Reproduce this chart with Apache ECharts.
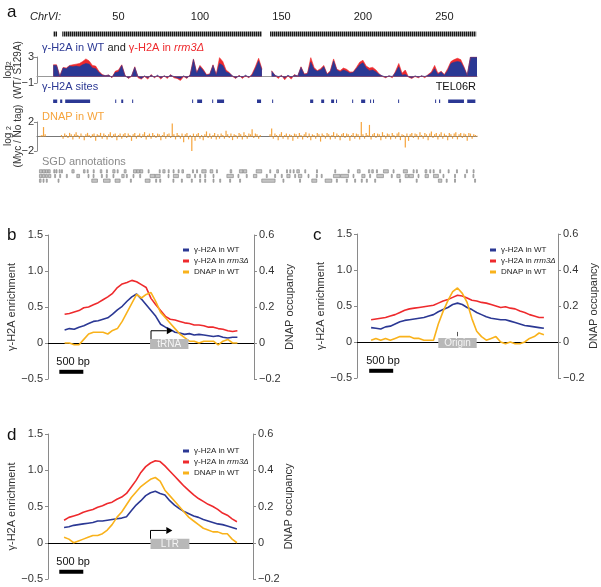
<!DOCTYPE html>
<html><head><meta charset="utf-8">
<script src="https://cdn.jsdelivr.net/npm/echarts@6/dist/echarts.min.js"></script>
<style>html,body{margin:0;padding:0;background:#fff}
#wrap{position:relative;width:601px;height:587px}
#ca,#cb{position:absolute;left:0;top:0;width:601px;height:587px}</style>
</head><body><div id="wrap"><div id="ca"></div><div id="cb"></div></div>
<script>
const FONT = '"Liberation Sans", Arial, Helvetica, sans-serif';
// ---------- Panel a data ----------
const rulerTicks = [50, 100, 150, 200, 250];
const probeRanges = [[10, 12.3], [15.5, 138], [143, 269.5]];
const gammaStart = 10, gammaStep = 2; // kb
const gammaWT = [
  1.7, 1.7, 0.05, 1.3, 1.2, 1.6, 1.5, 1.6, 1.5, 1.8,
  2.0, 1.9, 1.3, 1.2, 0.6, 0.2, 0.15, 0.2, -0.1, 0.6,
  0.7, 1.7, 0.1, -0.2, 0.1, 1.4, 0.0, -0.3, 0.1, -0.2,
  0.2, -0.1, 0.2, -0.2, 0.1, -0.1, 0.2, 0.0, -0.2, -0.3,
  0.1, -0.2, 0.2, 2.6, 0.5, 1.5, 0.9, 0.2, 0.3, 1.7,
  0.2, 2.0, 1.7, 0.7, 0.5, 0.1, -0.2, 0.1, -0.1, 0.2,
  -0.1, 0.2, 1.2, 2.4, 1.0, null, null, 0.8, 0.2, 0.0,
  0.1, -0.2, 0.2, -0.1, 0.2, 0.1, 1.4, 0.3, 0.4, 2.2,
  1.1, 0.8, 1.0, 1.5, 0.3, 0.7, 2.4, 1.0, 0.7, 1.0,
  0.8, 0.5, 0.6, 1.2, 1.8, 2.1, 1.3, 0.9, 1.0, 0.7,
  0.3, 0.1, -0.1, 0.1, 0.0, 0.6, 1.5, 0.2, 0.3, 0.0,
  -0.2, 0.1, -0.1, 0.1, 0.0, 0.2, 0.5, 1.2, 0.3, 0.7,
  0.2, 0.9, 2.0, 2.2, 2.3, 2.2, 1.3, 0.2, 3.0, 3.0,
  3.0
];
const gammaRrm3 = [
  1.8, 1.8, 0.05, 1.4, 1.3, 1.7, 1.8, 1.9, 2.0, 2.3,
  2.7, 2.4, 1.7, 1.6, 0.8, 0.3, 0.1, 0.25, -0.2, 0.8,
  1.0, 1.8, 0.2, -0.3, 0.0, 1.5, -0.2, -0.4, 0.0, -0.4,
  0.3, -0.2, 0.1, -0.4, 0.1, -0.3, 0.3, -0.2, -0.3, -0.6,
  0.0, -0.3, 0.3, 2.7, 0.6, 1.7, 1.1, 0.3, 0.4, 1.8,
  0.3, 2.9, 2.3, 1.0, 0.6, 0.0, -0.3, 0.2, -0.3, 0.1,
  -0.2, 0.4, 1.5, 2.8, 1.2, null, null, 0.9, 0.2, -0.3,
  0.2, -0.5, 0.1, -0.4, 0.3, 0.0, 1.5, 0.4, 0.5, 2.9,
  1.4, 0.9, 1.2, 1.7, 0.4, 0.9, 2.7, 1.1, 0.9, 1.3,
  1.1, 0.7, 0.7, 1.4, 2.2, 2.5, 1.6, 1.3, 1.4, 1.0,
  0.4, 0.0, -0.2, 0.1, -0.2, 0.8, 2.0, 0.5, 1.0, -0.1,
  -0.3, 0.0, -0.2, 0.1, -0.2, 0.3, 0.7, 1.7, 0.5, 0.8,
  0.3, 1.2, 2.3, 2.6, 2.8, 2.6, 1.5, 0.2, 3.0, 3.0,
  3.0
];
const siteRanges = [[9.9,12.4],[14.2,15.5],[17.3,32.6],[48,48.6],[51.7,52.9],[58.4,59],[95.2,95.8],[98.3,101.3],[107.5,108.1],[110.5,114.8],[135,137.5],[144.3,144.9],[167.6,169.5],[174.4,176.2],[180.5,182.3],[183.5,184],[193.4,193.9],[198.9,201.4],[204.4,205],[206.2,206.8],[221.6,222.2],[244.3,244.9],[246.7,247.4],[252.3,262],[264,269]];
const dnapStart = 2; // kb, 1 kb steps
const dnapWT = [
  0.1, 0.2, 1.3, 0.3, null, null, null, null,
  null, null, null, null, null, 0.2, -0.3, 0.4, 0.2, -0.2,
  0.5, 0.3, -0.4, 0.3, 0.6, 0.2, -0.3, 0.4, 0.1, -0.5,
  0.3, 0.5, 0.2, -0.2, 0.3, 0.4, -0.6, 0.3, 0.2, 0.5,
  -0.3, 0.4, 0.2, -0.4, 0.3, 0.6, -0.2, 0.3, 0.4, -0.5,
  0.2, 0.4, -0.3, 0.3, 0.5, -0.2, 0.4, 0.2, -0.6, 0.3,
  0.5, -0.3, 0.2, 0.4, -0.2, 0.3, 0.6, -0.4, 0.2, 0.4,
  -0.3, 0.5, 0.2, -0.2, 0.4, 0.3, -0.5, 0.2, 0.6, -0.3,
  0.3, 0.4, -0.2, 1.8, 0.3, -0.4, 0.5, 0.2, -0.3, 0.4,
  -0.8, 0.3, 0.5, -0.4, 0.2, -2.0, 0.4, -0.6, 0.3, 0.5,
  -0.3, 0.2, -0.5, 0.3, 0.7, -0.2, 0.4, -0.3, 0.2, 0.5,
  -0.4, 0.3, -0.3, 0.4, 0.2, -0.3, 0.8, 0.3, -0.2, 0.4,
  -0.5, 0.3, 0.2, -0.3, 0.5, 0.3, -0.4, 0.6, 0.2, -0.3,
  0.4, 0.3, 1.0, -0.2, 0.4, 0.3, -0.3, 0.2, null, null,
  null, null, null, 0.3, 1.1, -0.3, 0.4, 0.2, -0.5, 0.3,
  0.6, -0.3, 0.2, 0.4, -0.4, 0.3, 0.2, -0.6, 0.4, 0.3,
  -0.3, 0.5, 0.2, -0.4, 0.3, 0.6, -0.2, 0.4, -0.5, 0.3,
  0.2, -0.3, 0.5, 0.3, -0.7, 0.4, 0.2, -0.3, 0.5, 0.3,
  -0.4, 0.2, 0.6, -0.3, 0.4, 0.2, -0.5, 0.3, 0.5, -0.2,
  0.4, 0.3, -0.6, 0.2, 0.5, -0.3, 0.4, 0.3, -0.4, 2.0,
  0.3, -0.3, 0.5, 0.2, 1.6, -0.4, 0.3, 0.5, -0.2, 0.4,
  0.3, -0.5, 0.6, 0.2, -0.3, 0.4, 0.3, -0.4, 0.5, 0.2,
  -0.3, 0.4, 0.6, -0.5, 0.3, 0.2, -1.5, 0.4, -0.6, 0.3,
  0.5, -0.2, 0.4, 0.3, -0.4, 0.6, 0.2, -0.3, 0.5, 0.3,
  -0.5, 0.4, 0.7, -0.2, 0.3, 0.5, -0.4, 0.3, 0.6, -0.3,
  0.4, 0.2, -0.5, 0.5, 0.3, -0.3, 0.4, 0.6, -0.4, 0.3,
  0.5, -0.2, 0.4, 0.3, -0.6, 0.5, 0.4, -0.3, 0.3, 0.2,
  0.1
];
const sgdRow1 = [[1.5,3.2],[3.4,5],[5.2,6.6],[6.8,8.1],[10.3,11],[11.6,12.3],[13.6,14.2],[15,15.6],[21.4,22.8],[28.5,29.5],[30.8,31.4],[34.5,35.1],[38.8,39.8],[42.6,43.2],[46.5,47.9],[49.2,49.8],[53.5,54.7],[59.2,61],[61.2,63],[63.2,64.9],[68.2,68.8],[75,75.6],[77.2,78.6],[80.5,81.1],[83.5,84.1],[86.6,87.2],[88.9,89.9],[95.4,96],[97.9,98.5],[101.1,103.8],[106.2,107.9],[110.1,110.7],[118.5,119.5],[124.2,126.4],[126.6,128.7],[134.5,137.9],[142.8,143.4],[147.1,148.2],[153.1,153.7],[155.1,155.7],[157.2,157.8],[159.4,161],[164.3,164.9],[171.5,172.1],[182.7,183.3],[190.9,191.5],[196.6,198.3],[203.4,204.2],[205.4,206.4],[208.3,208.9],[212.6,215.6],[218.5,219.1],[224.8,227.3],[230.8,231.4],[232.8,233.4],[238.1,239.2],[241,241.6],[243.1,243.7],[247.1,247.7],[252.3,252.9],[257.4,258],[263.5,264.1],[267.6,268.2]];
const sgdRow2 = [[1.5,3],[3.3,4.8],[5.2,6.4],[7,8.5],[10.8,11.4],[13.9,14.5],[18,18.6],[24.4,26.1],[31.3,31.9],[34.4,35],[39.5,40.1],[42.5,43.1],[46.6,47.2],[52,53.5],[54.8,55.4],[58.9,59.5],[63,63.6],[69.4,72.4],[72.6,75.6],[80.4,81],[83.7,86.8],[91.9,94],[96.7,97.3],[99.8,100.4],[102.9,103.5],[108,108.6],[116.5,120.5],[123.3,123.9],[128.4,129],[132.8,134.9],[140.7,141.3],[145.8,146.4],[149.9,150.5],[153.3,155.3],[158.1,158.7],[160.4,162.5],[166.3,166.9],[171.4,172],[174.4,175],[181.9,186],[186.3,191.1],[193.9,194.5],[199.3,201.3],[204.1,204.7],[208.5,212.6],[217.4,218],[220.8,222.8],[225.9,228],[228.4,231],[233.8,234.4],[238.1,240.2],[243.3,246.3],[249.1,249.7],[256.2,256.8],[262.4,263],[267.5,268.1]];
const sgdRow3 = [[1.5,2.5],[3.7,4.3],[5.7,6.3],[12.9,13.5],[33.6,37.1],[40.8,44.9],[47.9,51],[57.3,57.9],[66.4,69.4],[72.8,73.4],[75.3,75.9],[83.4,84],[88.6,89.2],[94.7,95.3],[99.8,100.4],[102.9,103.5],[108,108.6],[112.1,112.7],[118.2,118.8],[124.3,124.9],[137.9,146.1],[150.9,151.5],[161.1,161.7],[168.6,171.7],[176.8,180.9],[183.7,184.3],[189.8,190.4],[194.9,195.5],[199,199.6],[202.1,202.7],[207.2,207.8],[222.5,223.1],[232.7,233.3],[246.3,248.4],[251.1,251.7],[256.2,256.8],[268.5,269.1]];

// ---------- Panels b-d data ----------
const profileBp = [-1800,-1700,-1600,-1500,-1400,-1300,-1200,-1100,-1000,-900,-800,-700,-600,-500,-400,-300,-200,-100,0,100,200,300,400,500,600,700,800,900,1000,1100,1200,1300,1400,1500,1600,1700,1800];
const bWT   = [0.18,0.20,0.19,0.22,0.24,0.27,0.30,0.31,0.33,0.35,0.40,0.46,0.51,0.58,0.64,0.68,0.61,0.53,0.45,0.37,0.26,0.22,0.19,0.15,0.14,0.12,0.13,0.11,0.12,0.11,0.10,0.09,0.10,0.08,0.07,0.08,0.08];
const bRrm3 = [0.40,0.41,0.43,0.45,0.49,0.50,0.53,0.56,0.60,0.64,0.69,0.77,0.82,0.84,0.87,0.85,0.81,0.77,0.62,0.53,0.45,0.37,0.33,0.32,0.30,0.28,0.27,0.25,0.25,0.24,0.22,0.22,0.20,0.19,0.17,0.16,0.17];
const bDNAP = [0.00,0.00,-0.01,-0.01,0.02,0.05,0.06,0.06,0.06,0.05,0.07,0.08,0.12,0.17,0.22,0.27,0.25,0.27,0.28,0.23,0.17,0.14,0.11,0.08,0.05,0.03,0.01,0.01,0.00,0.01,0.01,0.01,-0.01,0.01,0.02,0.00,0.00];
const cWT   = [0.20,0.19,0.18,0.21,0.22,0.25,0.28,0.30,0.31,0.32,0.33,0.34,0.36,0.38,0.42,0.45,0.48,0.52,0.54,0.52,0.48,0.45,0.41,0.38,0.35,0.33,0.32,0.31,0.31,0.29,0.27,0.25,0.23,0.22,0.21,0.20,0.19];
const cRrm3 = [0.31,0.32,0.33,0.34,0.36,0.38,0.41,0.44,0.46,0.47,0.48,0.49,0.50,0.51,0.54,0.57,0.59,0.62,0.65,0.64,0.61,0.58,0.57,0.55,0.54,0.52,0.50,0.48,0.49,0.47,0.46,0.43,0.41,0.38,0.36,0.34,0.34];
const cDNAP = [0.01,0.02,0.01,0.02,0.01,0.02,0.03,0.03,0.03,0.02,0.02,0.01,0.01,0.01,0.10,0.17,0.23,0.28,0.30,0.27,0.22,0.13,0.06,0.03,0.01,0.02,0.03,0.00,-0.01,0.00,-0.01,-0.01,0.00,0.02,0.03,0.05,0.04];
const dWT   = [0.21,0.22,0.24,0.25,0.26,0.27,0.28,0.30,0.30,0.31,0.32,0.33,0.34,0.36,0.44,0.52,0.58,0.65,0.69,0.71,0.68,0.66,0.58,0.52,0.47,0.43,0.40,0.37,0.35,0.32,0.30,0.28,0.26,0.25,0.23,0.21,0.19];
const dRrm3 = [0.31,0.35,0.37,0.39,0.42,0.44,0.46,0.49,0.51,0.54,0.56,0.60,0.63,0.68,0.77,0.86,0.97,1.05,1.10,1.13,1.12,1.06,0.99,0.92,0.85,0.78,0.72,0.66,0.61,0.57,0.53,0.50,0.46,0.41,0.38,0.33,0.29];
const dDNAP = [0.03,0.02,0.00,0.01,0.02,0.03,0.04,0.04,0.05,0.07,0.10,0.14,0.17,0.21,0.25,0.28,0.31,0.33,0.35,0.36,0.34,0.29,0.26,0.23,0.20,0.17,0.14,0.12,0.10,0.08,0.07,0.06,0.06,0.05,0.05,0.02,0.00];
const legendNames = ['γ-H2A in WT', 'γ-H2A in rrm3Δ', 'DNAP in WT'];
const featureLabels = ['tRNA', 'Origin', 'LTR'];
const featureStartBp = [-20, -400, 0];
const featureEndBp = [780, 400, 810];
const featureArrow = [1, 0, 1];
const scaleBarBp = 500;
const scaleBarStart = [-1910, -1840, -1900];

// ---------- styles ----------
const BLUE = '#2b3894', RED = '#ee2a2d', GOLD = '#f9b21b', ORANGE = '#f6a43c';
const AXC = '#8a8a8a', TXT = '#333';
const minus = s => String(s).replace('-', '−');
const T = (x, y, text, extra, elem) => Object.assign({type: 'text', x: x, y: y, z: 100,
  style: Object.assign({text: text, fontFamily: FONT, fontSize: 11, fill: TXT, align: 'left', verticalAlign: 'middle'}, extra || {})}, elem || {});

// ================= Chart A : panel a =================
function pat() {
  const cv = document.createElement('canvas'); cv.width = 2; cv.height = 4;
  const x = cv.getContext('2d');
  x.fillStyle = '#1a1a1a'; x.fillRect(0, 0, 1, 4);
  x.fillStyle = '#8c8c8c'; x.fillRect(1, 0, 1, 4);
  return cv;
}
const probePattern = {image: pat(), repeat: 'repeat'};
const gx = (s, st, arr) => arr.map((v, i) => [s + st * i, v]);
function rangeRender(fill) {
  return function (params, api) {
    const row = api.value(2);
    const p1 = api.coord([api.value(0), row]);
    const p2 = api.coord([api.value(1), row + 1]);
    return {type: 'rect', shape: {x: p1[0], y: Math.min(p1[1], p2[1]), width: Math.max(p2[0] - p1[0], 1), height: Math.abs(p2[1] - p1[1])},
      style: {fill: fill}};
  };
}
const gridsA = [
  {left: 37, width: 440, top: 31.5, height: 5},
  {left: 37, width: 440, top: 57, height: 26},
  {left: 37, width: 440, top: 99.5, height: 3.5},
  {left: 37, width: 440, top: 122, height: 29},
  {left: 37, width: 440, top: 169, height: 14}
];
const kbAxis = {type: 'value', min: 0, max: 270, splitLine: {show: false}};
const xAxesA = [
  Object.assign({gridIndex: 0, position: 'top', interval: 50, axisLine: {show: false}, axisTick: {show: false},
    axisLabel: {show: true, margin: 9, fontSize: 11, color: '#222', fontFamily: FONT, showMaxLabel: false,
      formatter: v => rulerTicks.includes(v) ? String(v) : ''}}, kbAxis),
  Object.assign({gridIndex: 1, axisLine: {show: true, onZero: true, lineStyle: {color: '#999', width: 1}}, axisTick: {show: false}, axisLabel: {show: false}}, kbAxis),
  Object.assign({gridIndex: 2, show: false}, kbAxis),
  Object.assign({gridIndex: 3, axisLine: {show: true, onZero: true, lineStyle: {color: '#777', width: 1}}, axisTick: {show: false}, axisLabel: {show: false}}, kbAxis),
  Object.assign({gridIndex: 4, show: false}, kbAxis)
];
const smallY = (gi, mn, mx) => ({gridIndex: gi, type: 'value', min: mn, max: mx, interval: mx - mn,
  axisLine: {show: true, onZero: false, lineStyle: {color: AXC}}, axisTick: {show: true, length: 3, lineStyle: {color: AXC}},
  axisLabel: {fontSize: 11, color: TXT, fontFamily: FONT, margin: 3, formatter: v => minus(v)}, splitLine: {show: false}});
const yAxesA = [
  {gridIndex: 0, show: false, min: 0, max: 1},
  smallY(1, -1, 3),
  {gridIndex: 2, show: false, min: 0, max: 1},
  smallY(3, -2, 2),
  {gridIndex: 4, show: false, min: 0, max: 3, inverse: true}
];
const seriesA = [
  {type: 'custom', xAxisIndex: 0, yAxisIndex: 0, renderItem: rangeRender(probePattern),
    encode: {x: [0, 1], y: 2}, data: probeRanges.map(r => [r[0], r[1], 0]), silent: true},
  {type: 'line', name: 'rrm3 track', xAxisIndex: 1, yAxisIndex: 1, data: gx(gammaStart, gammaStep, gammaRrm3),
    symbol: 'none', color: RED, lineStyle: {width: 0.6, color: RED}, areaStyle: {color: RED, opacity: 1}, connectNulls: false},
  {type: 'line', name: 'WT track', xAxisIndex: 1, yAxisIndex: 1, data: gx(gammaStart, gammaStep, gammaWT),
    symbol: 'none', color: BLUE, lineStyle: {width: 0.6, color: BLUE}, areaStyle: {color: BLUE, opacity: 1}, connectNulls: false},
  {type: 'custom', xAxisIndex: 2, yAxisIndex: 2, renderItem: rangeRender(BLUE),
    encode: {x: [0, 1], y: 2}, data: siteRanges.map(r => [r[0], r[1], 0]), silent: true},
  {type: 'bar', name: 'DNAP track', xAxisIndex: 3, yAxisIndex: 3, data: gx(dnapStart, 1, dnapWT),
    barWidth: 1.2, itemStyle: {color: ORANGE}, silent: true},
  {type: 'custom', xAxisIndex: 4, yAxisIndex: 4, renderItem: function (p, api) {
      const row = api.value(2);
      const p1 = api.coord([api.value(0), row + 0.15]);
      const p2 = api.coord([api.value(1), row + 0.85]);
      return {type: 'rect', shape: {x: p1[0], y: Math.min(p1[1], p2[1]), width: Math.max(p2[0] - p1[0], 1), height: Math.abs(p2[1] - p1[1])},
        style: {fill: '#c4c4c4', stroke: '#808080', lineWidth: 0.6}};
    }, encode: {x: [0, 1], y: 2},
    data: [].concat(sgdRow1.map(r => [r[0], r[1], 0]), sgdRow2.map(r => [r[0], r[1], 1]), sgdRow3.map(r => [r[0], r[1], 2])), silent: true}
];
const gA = [];
gA.push(T(7, 12, 'a', {fontSize: 17, fill: '#111'}));
gA.push(T(30, 17, 'ChrVI:', {fontStyle: 'italic', fill: '#222'}));
gA.push(T(42, 48, '{b|γ-H2A in WT}{k| and }{r|γ-H2A in }{ri|rrm3Δ}', {rich: {
  b: {fill: BLUE, fontSize: 11, fontFamily: FONT}, k: {fill: '#222', fontSize: 11, fontFamily: FONT},
  r: {fill: RED, fontSize: 11, fontFamily: FONT}, ri: {fill: RED, fontSize: 11, fontStyle: 'italic', fontFamily: FONT}}}));
gA.push(T(42, 87, 'γ-H2A sites', {fill: BLUE}));
gA.push(T(476, 87, 'TEL06R', {fill: '#111', align: 'right'}));
gA.push(T(42, 117, 'DNAP in WT', {fill: ORANGE}));
gA.push(T(42, 162, 'SGD annotations', {fill: '#8a8a8a'}));
const rich2 = {n: {fontSize: 10, fontFamily: FONT, fill: TXT, lineHeight: 10}, s: {fontSize: 7, fontFamily: FONT, fill: TXT, verticalAlign: 'bottom', lineHeight: 10}};
gA.push(T(13, 70, '{n|log}{s|2}\n{n|(WT/ S129A)}', {align: 'center', rich: rich2}, {rotation: Math.PI / 2}));
gA.push(T(13, 136, '{n|log }{s|2}\n{n|(Myc / No tag)}', {align: 'center', rich: rich2}, {rotation: Math.PI / 2}));
gA.push(T(7, 235, 'b', {fontSize: 17, fill: '#111'}));
gA.push(T(313, 235, 'c', {fontSize: 17, fill: '#111'}));
gA.push(T(7, 435, 'd', {fontSize: 17, fill: '#111'}));

const chartA = echarts.init(document.getElementById('ca'));
chartA.setOption({animation: false, backgroundColor: '#fff', grid: gridsA, xAxis: xAxesA, yAxis: yAxesA, series: seriesA, graphic: gA});

// ================= Chart B : panels b-d =================
const gridsB = [
  {left: 48, width: 206, top: 235, height: 144},
  {left: 357, width: 201, top: 234, height: 144},
  {left: 48, width: 205, top: 434, height: 145}
];
const halfBp = [2146, 2094, 2135];
const xAxesB = gridsB.map((g, i) => ({gridIndex: i, type: 'value', min: 0, max: 2 * halfBp[i],
  axisLine: {show: true, onZero: true, lineStyle: {color: '#000', width: 1}}, axisTick: {show: false},
  axisLabel: {show: false}, splitLine: {show: false}}));
const yAxesB = [];
gridsB.forEach((g, i) => {
  yAxesB.push({gridIndex: i, type: 'value', min: -0.5, max: 1.5, interval: 0.5, position: 'left',
    name: 'γ-H2A enrichment', nameLocation: 'middle', nameRotate: 90, nameGap: 26,
    nameTextStyle: {fontSize: 11, color: TXT, fontFamily: FONT},
    axisLine: {show: true, onZero: false, lineStyle: {color: AXC}}, axisTick: {show: true, length: 3, lineStyle: {color: AXC}},
    axisLabel: {fontSize: 11, color: TXT, fontFamily: FONT, margin: 5, formatter: v => v === 0 ? '0' : minus(v.toFixed(1))},
    splitLine: {show: false}});
  yAxesB.push({gridIndex: i, type: 'value', min: -0.2, max: 0.6, interval: 0.2, position: 'right',
    name: 'DNAP occupancy', nameLocation: 'middle', nameRotate: 90, nameGap: 22,
    nameTextStyle: {fontSize: 11, color: TXT, fontFamily: FONT},
    axisLine: {show: true, onZero: false, lineStyle: {color: AXC}}, axisTick: {show: true, length: 3, lineStyle: {color: AXC}},
    axisLabel: {fontSize: 11, color: TXT, fontFamily: FONT, margin: 5, formatter: v => Math.abs(v) < 1e-9 ? '0' : minus(v.toFixed(1))},
    splitLine: {show: false}});
});
const profiles = [[bWT, bRrm3, bDNAP], [cWT, cRrm3, cDNAP], [dWT, dRrm3, dDNAP]];
const seriesB = [];
profiles.forEach((p, i) => {
  const pair = arr => arr.map((v, k) => [profileBp[k] + halfBp[i], v]);
  seriesB.push({type: 'line', name: legendNames[1], xAxisIndex: i, yAxisIndex: 2 * i, data: pair(p[1]), symbol: 'none', color: RED, lineStyle: {width: 1.6, color: RED}});
  seriesB.push({type: 'line', name: legendNames[0], xAxisIndex: i, yAxisIndex: 2 * i, data: pair(p[0]), symbol: 'none', color: BLUE, lineStyle: {width: 1.6, color: BLUE}});
  seriesB.push({type: 'line', name: legendNames[2], xAxisIndex: i, yAxisIndex: 2 * i + 1, data: pair(p[2]), symbol: 'none', color: GOLD, lineStyle: {width: 1.6, color: GOLD}});
  // annotation (feature box, arrow/tick, 500 bp scale bar) drawn through the panel's own axes
  seriesB.push({type: 'custom', xAxisIndex: i, yAxisIndex: 2 * i, silent: true, z: 10, clip: false,
    encode: {x: [0, 1], y: 2},
    data: [[featureStartBp[i] + halfBp[i], featureEndBp[i] + halfBp[i], 0, scaleBarStart[i] + halfBp[i], featureArrow[i], halfBp[i]]],
    renderItem: function (params, api) {
      const h = api.value(5);
      const a = api.coord([api.value(0), 0.055]), b = api.coord([api.value(1), -0.085]);
      const kids = [];
      kids.push({type: 'rect', shape: {x: a[0], y: a[1], width: b[0] - a[0], height: b[1] - a[1]}, style: {fill: '#b8b8b8'}});
      kids.push({type: 'text', x: (a[0] + b[0]) / 2, y: (a[1] + b[1]) / 2 + 0.5,
        style: {text: featureLabels[params.seriesIndex === 3 ? 0 : params.seriesIndex === 7 ? 1 : 2], fill: '#f4f4f4', fontSize: 10, fontFamily: FONT, align: 'center', verticalAlign: 'middle'}});
      if (api.value(4) === 1) {
        const p0 = api.coord([h, 0.055]), p1 = api.coord([h, 0.17]), p2 = api.coord([h + 330, 0.17]);
        kids.push({type: 'polyline', shape: {points: [p0, p1, p2]}, style: {stroke: '#000', lineWidth: 1, fill: null}});
        kids.push({type: 'polygon', shape: {points: [[p2[0], p2[1] - 3.5], [p2[0] + 6, p2[1]], [p2[0], p2[1] + 3.5]]}, style: {fill: '#000'}});
      } else {
        const t0 = api.coord([h, 0.08]), t1 = api.coord([h, 0.14]);
        kids.push({type: 'polyline', shape: {points: [t0, t1]}, style: {stroke: '#555', lineWidth: 1, fill: null}});
      }
      const s0 = api.coord([api.value(3), -0.4]), s1 = api.coord([api.value(3) + scaleBarBp, -0.4]);
      kids.push({type: 'rect', shape: {x: s0[0], y: s0[1] - 2, width: s1[0] - s0[0], height: 4}, style: {fill: '#000'}});
      kids.push({type: 'text', x: s0[0] - 3, y: s0[1] - 10, style: {text: '500 bp', fill: '#111', fontSize: 11, fontFamily: FONT, align: 'left', verticalAlign: 'middle'}});
      return {type: 'group', children: kids};
    }});
});
const legendPos = [[178, 241], [485, 241], [178, 442]];
const legendsB = legendPos.map(lp => ({left: lp[0], top: lp[1], orient: 'vertical', icon: 'rect', itemWidth: 6, itemHeight: 3,
  itemGap: 3, selectedMode: false, data: legendNames,
  formatter: n => n.indexOf('rrm3') >= 0 ? 'γ-H2A in {i|rrm3Δ}' : n,
  textStyle: {fontSize: 8, lineHeight: 8, color: '#222', fontFamily: FONT, rich: {i: {fontStyle: 'italic', fontSize: 8, fontFamily: FONT}}}}));

const chartB = echarts.init(document.getElementById('cb'));
chartB.setOption({animation: false, backgroundColor: 'transparent', grid: gridsB, xAxis: xAxesB, yAxis: yAxesB, series: seriesB, legend: legendsB});
</script></body></html>
